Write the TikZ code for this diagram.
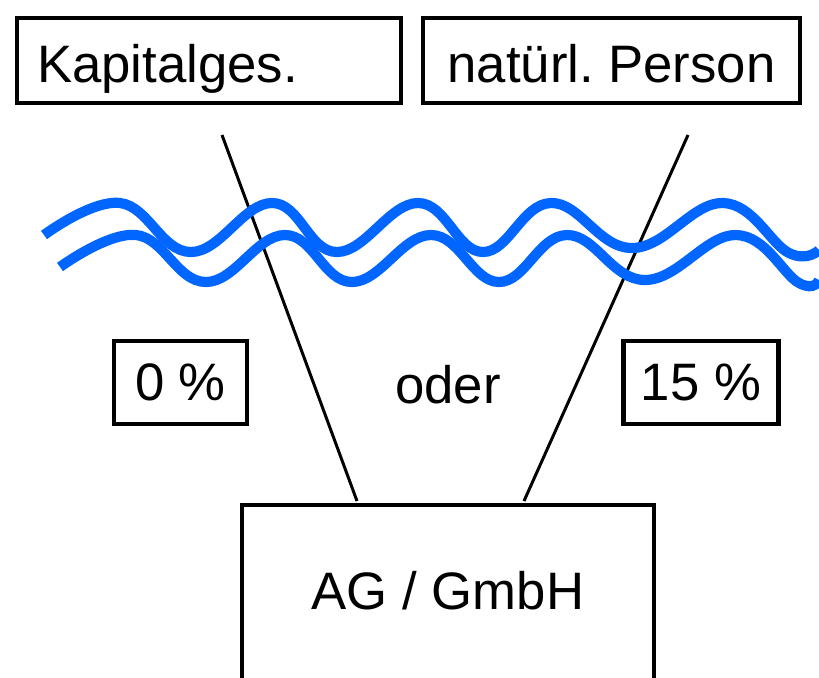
\documentclass[tikz,border=0pt]{standalone}
\usepackage{fontspec}
\setmainfont{Liberation Sans}
\usepackage{xcolor}
\definecolor{wasser}{HTML}{0066FF}

\begin{document}
\begin{tikzpicture}[x=0.02cm, y=-0.02cm,
            every node/.style={font=\fontsize{30}{36}\selectfont},
            box/.style={draw, line width=2.3pt, inner sep=0pt},
            wave/.style={wasser, line width=5.8pt},
            edge/.style={black, line width=1.7pt}]
            \useasboundingbox (0,0) rectangle (819,677);
            \clip (0,0) rectangle (819,677);
            % Gesellschafter
            \node[box, minimum width=7.68cm, minimum height=1.7cm, text width=6.88cm, align=left, text height=1cm, text depth=0.14cm] (kap) at (209,60.5) {Kapitalges.};
            \node[box, minimum width=7.54cm, minimum height=1.7cm, text height=1cm, text depth=0.14cm] (nat) at (611.5,60.5) {natürl.\ Person};
            % Steuersaetze
            \node[box, minimum width=2.66cm, minimum height=1.66cm] (null) at (180.5,382.5) {0 \%};
            \node[box, minimum width=3.1cm, minimum height=1.66cm] (funfz) at (701,382.5) {15 \%};
            \node (oder) at (448,385) {oder};
            % Gesellschaft
            \node[box, anchor=north, minimum width=8.24cm, minimum height=4.4cm, text height=0.8cm, text depth=1.04cm] (ag) at (448,503) {AG / GmbH};
            \coordinate (kapl) at (222,135);
            \coordinate (natl) at (688,135);
            \coordinate (agl) at (357,501);
            \coordinate (agr) at (524,501);
            \draw[edge] (kapl) -- (agl);
            \draw[edge] (natl) -- (agr);
            % Grenze
            \draw[wave] plot[smooth, tension=0.7] coordinates {(44,235) (120,203) (191,252) (272,203) (337,252) (418,203) (483,252) (551,203) (632,248) (723,203) (789,253) (819,250)};
            \draw[wave] plot[smooth, tension=0.7] coordinates {(60,267) (136,235) (206,282) (285,235) (352,282) (431,235) (499,282) (567,235) (645,280) (736,235) (799,283) (819,280)};
        \end{tikzpicture}
\end{document}
